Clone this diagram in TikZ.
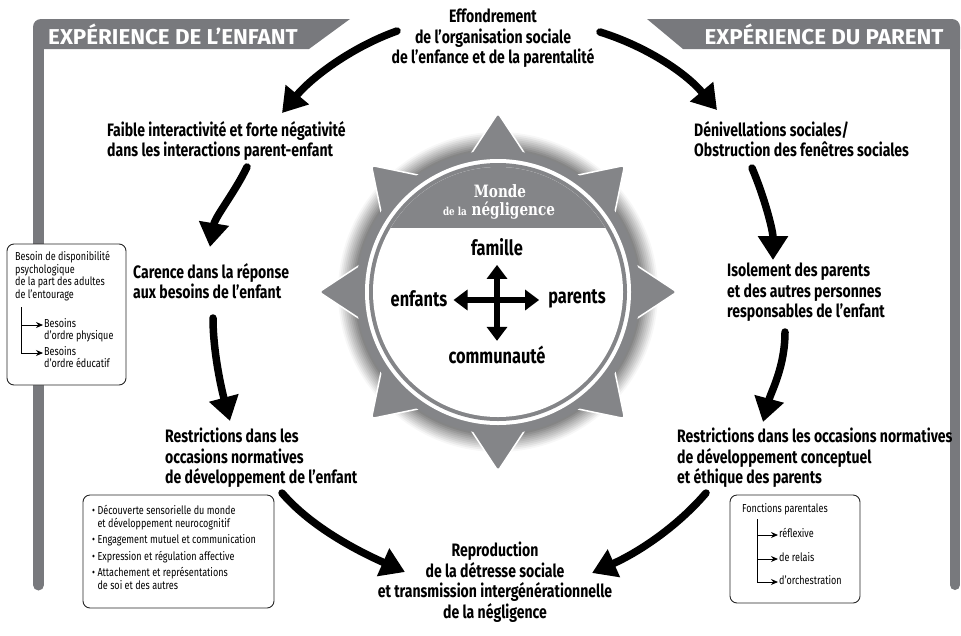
\documentclass[tikz,border=0pt]{standalone}
\usepackage{fontspec}
\setmainfont{Fira Sans}[FakeStretch=0.78]
\newfontfamily\headfont{Fira Sans}[FakeStretch=1.04]
\newfontfamily\slabfont{DejaVu Serif}[FakeStretch=0.8]
\usetikzlibrary{arrows.meta, calc}

\definecolor{frameGray}{RGB}{120,121,125}
\definecolor{wheelGray}{RGB}{132,133,136}

\tikzstyle{stage}=[font=\bfseries\fontsize{18}{20.5}\selectfont, align=left, inner sep=0pt, anchor=north west]
\tikzstyle{stageCenter}=[stage, align=center, anchor=north]
\tikzstyle{bigArrow}=[-{Triangle[width=29pt,length=24pt]}, line width=7.5pt, line cap=round]
\tikzstyle{crossArrow}=[{Triangle[width=20pt,length=14pt]}-{Triangle[width=20pt,length=14pt]}, line width=6.5pt]
\tikzstyle{infoBox}=[draw=black!85, line width=0.9pt, rounded corners=7pt, fill=white]
\tikzstyle{boxText}=[font=\fontsize{11.6}{12.6}\selectfont, align=left, inner sep=0pt, anchor=north west]
\tikzstyle{treeArrow}=[-{Stealth[length=7pt,width=6pt]}, line width=0.9pt]
\tikzstyle{tabText}=[font=\headfont\bfseries\fontsize{21.5}{21.5}\selectfont, text=white, inner sep=0pt]
\tikzstyle{axisLabel}=[font=\bfseries\fontsize{21}{21}\selectfont, inner sep=0pt]
\tikzstyle{mondeText}=[font=\slabfont\bfseries\fontsize{17}{17}\selectfont, text=white, inner sep=0pt]

\begin{document}
\begin{tikzpicture}[x=1pt, y=-1pt]
  \useasboundingbox (0,0) rectangle (961,635);

  % frames
  \fill[frameGray] (33,49) -- (33,27) arc[start angle=180, end angle=270, radius=8]
    -- (350,19) -- (309,49) -- cycle;
  \draw[frameGray, line width=11pt, line cap=round] (38.5,45) -- (38.5,585);
  \fill[frameGray] (647,19) -- (952,19) arc[start angle=270, end angle=360, radius=8]
    -- (960,49) -- (683,49) -- cycle;
  \draw[frameGray, line width=10pt, line cap=round] (955,45) -- (955,585);
  \node[tabText] (tabEnfant) at (173,34) {EXPÉRIENCE DE L’ENFANT};
  \node[tabText] (tabParent) at (824,34) {EXPÉRIENCE DU PARENT};

  % wheel
  \coordinate (hub) at (498,292);
  \foreach \i in {0,...,9}{
    \pgfmathtruncatemacro\shadeLevel{3+5*\i}
    \fill[black!\shadeLevel] (hub) circle ({160-1.8*\i});
  }
  \foreach \a in {0,45,...,315}{
    \fill[wheelGray, draw=white, line width=1.5pt, rounded corners=3pt]
      ($(hub)+(\a:179)$) -- ($(hub)+(\a+13:136)$) -- ($(hub)+(\a-13:136)$) -- cycle;
  }
  \fill[wheelGray] (hub) circle (142);
  \fill[white] (hub) circle (133);
  \fill[wheelGray] (hub) circle (129);
  \fill[white] (hub) circle (125);
  \begin{scope}
    \clip (hub) circle (125);
    \fill[wheelGray] (360,150) rectangle (640,228);
  \end{scope}
  \node[mondeText] (monde) at (500,191) {Monde};
  \node[mondeText] (negligence) at (499,211) {{\fontsize{11}{11}\selectfont de la} négligence};

  \node[axisLabel] (famille) at (497,247) {famille};
  \node[axisLabel] (communaute) at (497,355) {communauté};
  \node[axisLabel] (enfants) at (419,299) {enfants};
  \node[axisLabel] (parents) at (577,299) {parents};
  \draw[crossArrow] ($(famille.south)+(0,9)$) -- ($(communaute.north)+(0,-5)$);
  \draw[crossArrow] ($(enfants.east)+(6,1)$) -- ($(parents.west)+(-9,1)$);

  % stages
  \node[stageCenter] (collapse) at (493,9) {Effondrement\\de l’organisation sociale\\de l’enfance et de la parentalité};
  \node[stage] (interaction) at (107,121) {Faible interactivité et forte négativité\\dans les interactions parent-enfant};
  \node[stage] (carence) at (133,263) {Carence dans la réponse\\aux besoins de l’enfant};
  \node[stage] (restrictEnfant) at (165,428) {Restrictions dans les\\occasions normatives\\de développement de l’enfant};
  \node[stage] (denivel) at (694,121) {Dénivellations sociales/\\Obstruction des fenêtres sociales};
  \node[stage] (isolement) at (727,263) {Isolement des parents\\et des autres personnes\\responsables de l’enfant};
  \node[stage] (restrictParent) at (677,428) {Restrictions dans les occasions normatives\\de développement conceptuel\\et éthique des parents};
  \node[stageCenter] (reproduction) at (495,542) {Reproduction\\de la détresse sociale\\et transmission intergénérationnelle\\de la négligence};

  \draw[bigArrow] ($(collapse.north)+(-96,22)$) .. controls +(-45,16) and +(30,-36) .. ($(interaction.north west)+(175,-8)$);
  \draw[bigArrow] ($(collapse.north)+(107,23)$) .. controls +(45,14) and +(-32,-38) .. ($(denivel.north west)+(23,-11)$);
  \draw[bigArrow] ($(interaction.north west)+(140,46)$) .. controls +(-12,25) and +(5,-30) .. ($(carence.north west)+(77,-16)$);
  \draw[bigArrow] ($(carence.north west)+(80,55)$) .. controls +(0,35) and +(-8,-30) .. ($(restrictEnfant.north west)+(65,-7)$);
  \draw[bigArrow] ($(restrictEnfant.north west)+(117,65)$) .. controls +(30,35) and +(-45,-20) .. ($(reproduction.north)+(-90,30)$);
  \draw[bigArrow] ($(denivel.north west)+(58,47)$) .. controls +(12,28) and +(0,-30) .. ($(isolement.north west)+(46,-3)$);
  \draw[bigArrow] ($(isolement.north west)+(58,69)$) .. controls +(0,35) and +(8,-30) .. ($(restrictParent.north west)+(86,-6)$);
  \draw[bigArrow] ($(restrictParent.north west)+(29,65)$) .. controls +(-30,35) and +(45,-20) .. ($(reproduction.north)+(97,31)$);

  % side boxes
  \draw[infoBox] (7,244) rectangle (126,385);
  \node[boxText] (besoin) at (15,251) {Besoin de disponibilité\\psychologique\\de la part des adultes\\de l’entourage};
  \node[boxText] (physique) at (44,318) {Besoins\\d’ordre physique};
  \node[boxText] (educatif) at (44,346) {Besoins\\d’ordre éducatif};
  \coordinate (besoinTree) at (21,307);
  \draw[treeArrow] (besoinTree) |- ($(physique.north west)+(-1,7)$);
  \draw[treeArrow] (besoinTree) |- ($(educatif.north west)+(-1,7)$);

  \draw[infoBox] (83,495) rectangle (274,608);
  \node[boxText] (devList) at (92,505) {\textbullet\ Découverte sensorielle du monde\\
    \phantom{\textbullet\ }et développement neurocognitif\\[4pt]
    \textbullet\ Engagement mutuel et communication\\[4pt]
    \textbullet\ Expression et régulation affective\\[4pt]
    \textbullet\ Attachement et représentations\\
    \phantom{\textbullet\ }de soi et des autres};

  \draw[infoBox] (730,495) rectangle (860,603);
  \node[boxText] (fonctions) at (742,503) {Fonctions parentales};
  \node[boxText] (reflexive) at (779,528) {réflexive};
  \node[boxText] (relais) at (779,552) {de relais};
  \node[boxText] (orchestration) at (779,575) {d’orchestration};
  \coordinate (fonctionsTree) at (757,519);
  \foreach \f in {reflexive, relais, orchestration}{
    \draw[treeArrow] (fonctionsTree) |- ($(\f.north west)+(-1,7)$);
  }
\end{tikzpicture}
\end{document}
